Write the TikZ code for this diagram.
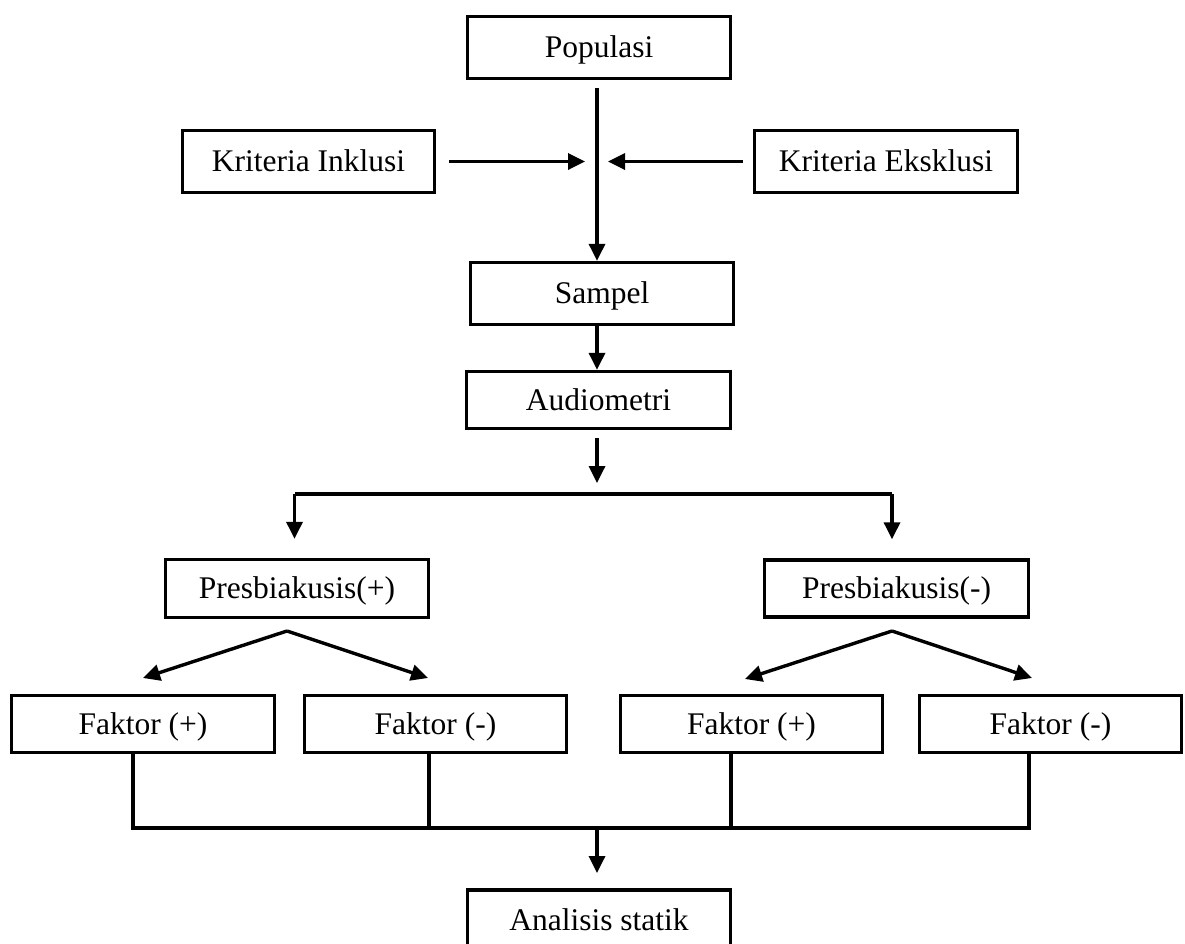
\documentclass[tikz,border=0pt]{standalone}
\usepackage{fontspec}
\setmainfont{Liberation Serif}
\usetikzlibrary{arrows.meta}
\tikzset{
  box/.style={draw, line width=3.4pt, inner sep=0pt, minimum width=263pt, minimum height=62pt,
    font=\fontsize{31.5}{36}\selectfont, text height=20.8pt, text depth=0pt},
  ln/.style={line width=3.2pt},
  arr/.style={line width=3.4pt, -{Triangle[length=17pt,width=16pt]}},
}
\begin{document}
\begin{tikzpicture}[x=1pt,y=-1pt]
\useasboundingbox (0,0) rectangle (1185,943);
% boxes
\node[box] (pop) at (599,47.5) {Populasi};
\node[box, minimum width=252pt] (inkl) at (308.5,161.5) {Kriteria Inklusi};
\node[box] (eksk) at (886,161.5) {Kriteria Eksklusi};
\node[box] (samp) at (602,293.5) {Sampel};
\node[box, minimum width=264pt, minimum height=57pt] (aud) at (598.5,400) {Audiometri};
\node[box, minimum height=58pt] (pplus) at (297,588.5) {Presbiakusis(+)};
\node[box, minimum width=264pt, minimum height=57pt] (pmin) at (896.5,588.5) {Presbiakusis(-)};
\node[box, minimum height=57pt] (f1) at (143,724) {Faktor (+)};
\node[box, minimum width=262pt, minimum height=57pt] (f2) at (435.5,724) {Faktor (-)};
\node[box, minimum width=262pt, minimum height=57pt] (f3) at (751.5,724) {Faktor (+)};
\node[box, minimum width=262pt, minimum height=57pt] (f4) at (1050.5,724) {Faktor (-)};
\node[box, minimum height=60pt] (anal) at (599,920) {Analisis statik};
% coordinates
\coordinate (p0) at (597,88);
\coordinate (jl) at (585,161.5);
\coordinate (jr) at (608,161.5);
\coordinate (a0) at (597,438);
\coordinate (a1) at (597,483);
\coordinate (bl) at (294.5,494);
\coordinate (br) at (892,494);
\coordinate (lapex) at (287,631);
\coordinate (ltl) at (143,678);
\coordinate (ltr) at (428,678);
\coordinate (rapex) at (892,631);
\coordinate (rtl) at (745,679);
\coordinate (rtr) at (1032,678);
\coordinate (c1) at (133,828);
\coordinate (c2) at (429,828);
\coordinate (c3) at (731,828);
\coordinate (c4) at (1029,828);
\coordinate (cm) at (597,828);
\coordinate (ce) at (597,873);
% connectors
\draw[arr] (p0) -- (p0 |- samp.north);
\draw[arr] ([xshift=13pt]inkl.east) -- (jl);
\draw[arr] ([xshift=-10pt]eksk.west) -- (jr);
\draw[arr] (samp.south -| p0) -- (aud.north -| p0);
\draw[arr] (a0) -- (a1);
\draw[ln] (bl) -- (br);
\draw[arr] (bl) -- ([yshift=19pt]bl |- pplus.north);
\draw[arr] (br) -- ([yshift=19pt]br |- pmin.north);
\draw[arr] (lapex) -- (ltl);
\draw[arr] (lapex) -- (ltr);
\draw[arr] (rapex) -- (rtl);
\draw[arr] (rapex) -- (rtr);
\draw[ln] (c1 |- f1.south) -- (c1) -- (c4) -- (c4 |- f4.south);
\draw[ln] (c2 |- f2.south) -- (c2);
\draw[ln] (c3 |- f3.south) -- (c3);
\draw[arr] (cm) -- (ce);
\end{tikzpicture}
\end{document}
